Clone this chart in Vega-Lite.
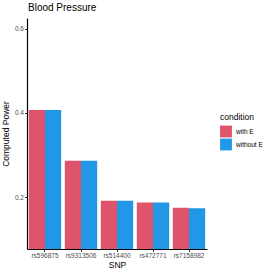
{
  "$schema": "https://vega.github.io/schema/vega-lite/v6.json",
  "width": 180,
  "height": 231,
  "autosize": "none",
  "padding": {"left": 27, "top": 18, "right": 67, "bottom": 25},
  "background": "white",
  "title": {"text": "Blood Pressure", "anchor": "start", "frame": "group", "fontSize": 10, "font": "Liberation Sans", "fontWeight": "normal", "color": "black", "offset": 5, "dx": 1},
  "data": {"values": [
    {"SNP": "rs596875", "condition": "with E", "power": 0.407},
    {"SNP": "rs596875", "condition": "without E", "power": 0.407},
    {"SNP": "rs9313506", "condition": "with E", "power": 0.2866},
    {"SNP": "rs9313506", "condition": "without E", "power": 0.2866},
    {"SNP": "rs514400", "condition": "with E", "power": 0.192},
    {"SNP": "rs514400", "condition": "without E", "power": 0.192},
    {"SNP": "rs472771", "condition": "with E", "power": 0.188},
    {"SNP": "rs472771", "condition": "without E", "power": 0.1875},
    {"SNP": "rs7158982", "condition": "with E", "power": 0.1755},
    {"SNP": "rs7158982", "condition": "without E", "power": 0.174}
  ]},
  "mark": {"type": "bar", "clip": true},
  "encoding": {
    "x": {"field": "SNP", "type": "nominal", "sort": null,
      "scale": {"paddingInner": 0.1, "paddingOuter": 0.05},
      "axis": {"title": "SNP", "labelAngle": 0, "labelFontSize": 6.5, "labelColor": "#4D4D4D", "labelFont": "Liberation Sans", "titleFont": "Liberation Sans", "titleFontSize": 8.5, "titleFontWeight": "normal", "titleColor": "black", "domainColor": "black", "domainWidth": 1.2, "tickColor": "#333333", "tickSize": 2.5, "labelPadding": 1, "titlePadding": 1}},
    "xOffset": {"field": "condition", "type": "nominal", "scale": {"paddingInner": 0}},
    "y": {"field": "power", "type": "quantitative",
      "scale": {"domain": [0.0776, 0.625], "nice": false, "zero": false},
      "axis": {"title": "Computed Power", "values": [0.2, 0.4, 0.6], "format": ".1f", "grid": false, "labelFontSize": 6.5, "labelColor": "#4D4D4D", "labelFont": "Liberation Sans", "titleFont": "Liberation Sans", "titleFontSize": 8.5, "titleFontWeight": "normal", "titleColor": "black", "domainColor": "black", "domainWidth": 1.2, "tickColor": "#333333", "tickSize": 2.5, "labelPadding": 1, "titlePadding": 4}},
    "color": {"field": "condition", "type": "nominal",
      "scale": {"domain": ["with E", "without E"], "range": ["#DF536B", "#2297E6"]},
      "legend": {"title": "condition", "orient": "none", "legendX": 193, "legendY": 95, "titleFont": "Liberation Sans", "titleFontSize": 8.5, "titleFontWeight": "normal", "titleColor": "black", "labelFont": "Liberation Sans", "labelFontSize": 6.5, "labelColor": "black", "symbolType": "square", "symbolSize": 140, "symbolStrokeWidth": 0, "symbolOpacity": 1, "rowPadding": 1, "titlePadding": 4, "labelOffset": 4}}
  },
  "config": {"view": {"stroke": null}}
}
